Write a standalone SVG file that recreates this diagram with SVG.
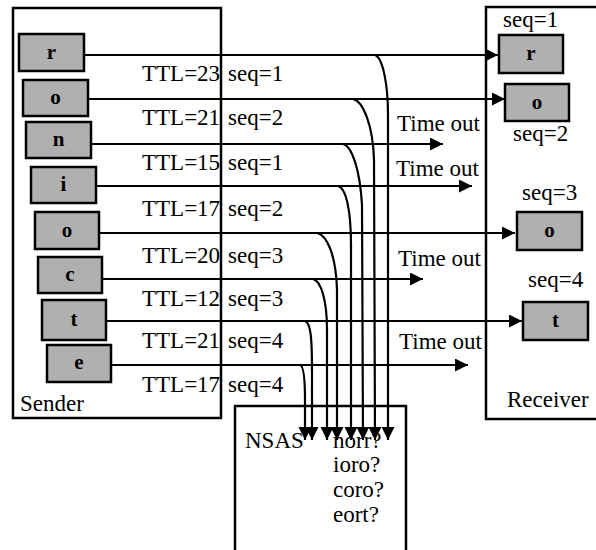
<svg xmlns="http://www.w3.org/2000/svg" width="596" height="550" viewBox="0 0 596 550">
<defs>
<style>
.box{fill:#ffffff;stroke:#000;stroke-width:2.5}
.pkt{fill:#b0b0b0;stroke:#000;stroke-width:2.5}
.lt{font-size:23px;fill:#000}
.nl{font-size:21px;font-weight:bold;fill:#000;text-anchor:middle}
.ln{fill:none;stroke:#000;stroke-width:2.2}
</style>
<marker id="ah" markerUnits="userSpaceOnUse" markerWidth="14" markerHeight="14" refX="13" refY="6.5" orient="auto" viewBox="0 0 14 14">
<path d="M0,0 L13,6.5 L0,13 z" fill="#000"/>
</marker>
</defs>
<rect width="596" height="550" fill="#ffffff"/>
<g font-family="Liberation Serif, Times New Roman, serif">
<g id="sender">
<rect class="box" x="13" y="8" width="208" height="410"/>
<text class="lt" x="20" y="411">Sender</text>
</g>
<g id="receiver">
<rect class="box" x="486" y="7" width="120" height="412"/>
<text class="lt" x="507" y="407">Receiver</text>
</g>
<g id="nsas">
<rect class="box" x="235" y="406" width="171" height="160"/>
<text class="lt" x="245" y="448">NSAS</text>
<text class="lt" x="333" y="448">norr?</text>
<text class="lt" x="333" y="472">ioro?</text>
<text class="lt" x="333" y="497">coro?</text>
<text class="lt" x="333" y="522">eort?</text>
</g>

<g id="s-r"><rect class="pkt" x="19" y="34" width="65" height="37"/><text class="nl" x="51.5" y="59">r</text></g>
<g id="s-o1"><rect class="pkt" x="23" y="80" width="65" height="36"/><text class="nl" x="55.5" y="104">o</text></g>
<g id="s-n"><rect class="pkt" x="26" y="122" width="65" height="36"/><text class="nl" x="58.5" y="146">n</text></g>
<g id="s-i"><rect class="pkt" x="31" y="167" width="65" height="36"/><text class="nl" x="63.5" y="191">i</text></g>
<g id="s-o2"><rect class="pkt" x="35" y="212" width="64" height="37"/><text class="nl" x="67" y="237">o</text></g>
<g id="s-c"><rect class="pkt" x="38" y="257" width="64" height="36"/><text class="nl" x="70" y="281">c</text></g>
<g id="s-t"><rect class="pkt" x="42" y="300" width="64" height="40"/><text class="nl" x="74" y="326">t</text></g>
<g id="s-e"><rect class="pkt" x="47" y="345" width="64" height="37"/><text class="nl" x="79" y="369">e</text></g>

<g id="r-r"><rect class="pkt" x="499" y="35" width="64" height="38"/><text class="nl" x="531" y="60">r</text></g>
<g id="r-o1"><rect class="pkt" x="505" y="84" width="64" height="37"/><text class="nl" x="537" y="109">o</text></g>
<g id="r-o2"><rect class="pkt" x="517" y="212" width="65" height="38"/><text class="nl" x="549.5" y="237">o</text></g>
<g id="r-t"><rect class="pkt" x="523" y="302" width="65" height="38"/><text class="nl" x="555.5" y="327">t</text></g>

<g id="labels">
<text class="lt" x="142" y="81">TTL=23</text><text class="lt" x="228" y="81">seq=1</text>
<text class="lt" x="142" y="125">TTL=21</text><text class="lt" x="228" y="125">seq=2</text>
<text class="lt" x="142" y="170">TTL=15</text><text class="lt" x="228" y="170">seq=1</text>
<text class="lt" x="142" y="216">TTL=17</text><text class="lt" x="228" y="216">seq=2</text>
<text class="lt" x="142" y="263">TTL=20</text><text class="lt" x="228" y="263">seq=3</text>
<text class="lt" x="142" y="306">TTL=12</text><text class="lt" x="228" y="306">seq=3</text>
<text class="lt" x="142" y="348">TTL=21</text><text class="lt" x="228" y="348">seq=4</text>
<text class="lt" x="142" y="392">TTL=17</text><text class="lt" x="228" y="392">seq=4</text>
<text class="lt" x="397" y="131">Time out</text>
<text class="lt" x="396" y="176">Time out</text>
<text class="lt" x="398" y="266">Time out</text>
<text class="lt" x="399" y="349">Time out</text>
<text class="lt" x="503" y="27">seq=1</text>
<text class="lt" x="513" y="141">seq=2</text>
<text class="lt" x="522" y="200">seq=3</text>
<text class="lt" x="528" y="287">seq=4</text>
</g>
</g>
<g id="connectors">
<line class="ln" x1="84" y1="55" x2="498" y2="55" marker-end="url(#ah)"/>
<line class="ln" x1="88" y1="99" x2="505" y2="99" marker-end="url(#ah)"/>
<line class="ln" x1="91" y1="144" x2="443" y2="144" marker-end="url(#ah)"/>
<line class="ln" x1="96" y1="186" x2="472" y2="186" marker-end="url(#ah)"/>
<line class="ln" x1="99" y1="233" x2="515" y2="233" marker-end="url(#ah)"/>
<line class="ln" x1="102" y1="279" x2="423" y2="279" marker-end="url(#ah)"/>
<line class="ln" x1="106" y1="321" x2="522" y2="321" marker-end="url(#ah)"/>
<line class="ln" x1="111" y1="365" x2="468" y2="365" marker-end="url(#ah)"/>

<path class="ln" d="M375,55 C383,58 388,85 388,115 L388,440" marker-end="url(#ah)"/>
<path class="ln" d="M353,99 C363,101 373,125 374,160 L375,440" marker-end="url(#ah)"/>
<path class="ln" d="M343,144 C352,146 360,170 362,205 L363,440" marker-end="url(#ah)"/>
<path class="ln" d="M338,186 C346,188 351,210 351,245 L351,440" marker-end="url(#ah)"/>
<path class="ln" d="M317,233 C327,235 336,255 337,290 L337,440" marker-end="url(#ah)"/>
<path class="ln" d="M313,279 C321,281 327,300 327,330 L327,440" marker-end="url(#ah)"/>
<path class="ln" d="M305,321 C311,323 312,340 312,370 L312,440" marker-end="url(#ah)"/>
<path class="ln" d="M300,365 C304,366 305,380 305,400 L305,440" marker-end="url(#ah)"/>
</g>
</svg>
